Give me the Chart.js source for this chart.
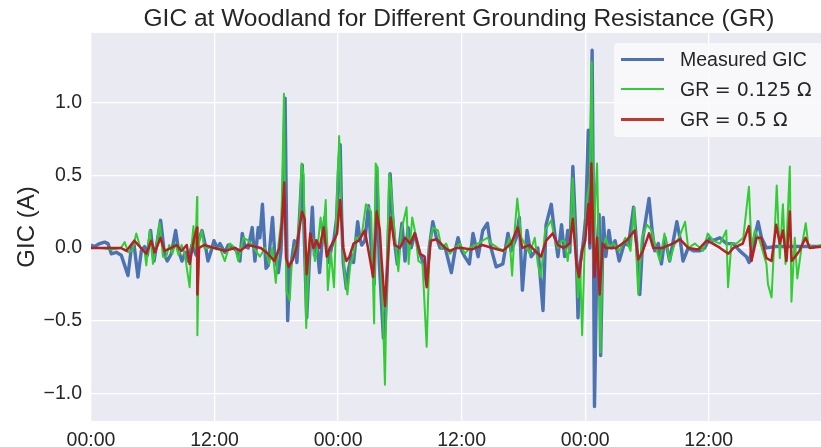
<!DOCTYPE html>
<html>
<head>
<meta charset="utf-8">
<script src="https://cdn.jsdelivr.net/npm/chart.js@4.4.1/dist/chart.umd.min.js"></script>
<style>
  html, body { margin: 0; padding: 0; background: #ffffff; }
  #wrap { position: relative; width: 821px; height: 447px; }
  #chart { position: absolute; left: 0; top: 0; }
  #title {
    position: absolute; left: 94px; width: 730px; top: 4px;
    text-align: center; font-family: 'Liberation Sans', Arial, sans-serif;
    font-size: 24.5px; color: #262626; white-space: nowrap;
  }
  #legend {
    position: absolute; left: 614px; top: 43px; width: 215px; height: 94px;
    background: rgba(250, 250, 252, 0.85); border-radius: 4px;
    font-family: 'Liberation Sans', Arial, sans-serif; font-size: 19.5px; color: #262626;
  }
  .row { position: absolute; left: 0; height: 30px; line-height: 30px; white-space: nowrap; }
  .row .swatch { position: absolute; left: 7px; width: 43px; }
  .row .txt { position: absolute; left: 66px; }
  .math { font-family: 'DejaVu Sans', sans-serif; font-size: 19px; }
</style>
</head>
<body>
<div id="wrap">
  <canvas id="chart" width="821" height="447"></canvas>
  <div id="title">GIC at Woodland for Different Grounding Resistance (GR)</div>
  <div id="legend">
    <div class="row" style="top:1px"><div class="swatch" style="top:14px;height:3px;background:#4C72B0"></div><div class="txt">Measured GIC</div></div>
    <div class="row" style="top:31px"><div class="swatch" style="top:14px;height:2px;background:#32CD32"></div><div class="txt">GR <span class="math">= 0.125 Ω</span></div></div>
    <div class="row" style="top:61px"><div class="swatch" style="top:14px;height:2.5px;background:#C0392B"></div><div class="txt">GR <span class="math">= 0.5 Ω</span></div></div>
  </div>
</div>
<script>
// hours since first midnight, GIC in amps
const measuredT = [0.0, 0.36, 0.84, 1.33, 1.65, 1.97, 2.46, 2.94, 3.27, 3.59, 3.92, 4.17, 4.56, 4.89, 5.21, 5.47, 5.79, 6.12, 6.44, 6.76, 7.15, 7.41, 7.8, 8.22, 8.51, 8.83, 9.16, 9.42, 9.81, 10.23, 10.45, 10.78, 11.1, 11.36, 11.68, 11.94, 12.27,
  12.52, 13.0, 13.33, 13.82, 14.14, 14.46, 14.69, 14.95, 15.27, 15.66, 15.92, 16.24, 16.4, 16.65, 17.0, 17.21, 17.63, 17.85, 18.2, 18.45, 18.65, 18.85, 18.95, 19.1, 19.3, 19.5, 19.75, 20.0, 20.25, 20.52, 20.7, 20.95, 21.2, 21.5, 21.7, 21.9, 22.2, 22.45, 22.7, 22.9, 23.1, 23.35, 23.6, 23.85, 24.05, 24.2, 24.35, 24.5, 24.8, 25.0, 25.3, 25.5, 25.9, 26.1, 26.3, 26.6, 26.95, 27.2, 27.5, 27.75, 28.0, 28.4, 28.55, 28.8, 29.05, 29.25, 29.5, 29.75, 30.2, 30.5, 30.8, 31.1, 31.45, 31.95, 32.3, 32.6, 32.85, 33.2, 33.55, 33.9, 34.4, 35.0, 35.35, 35.65,
  36.0, 36.3, 36.75, 37.1, 37.6, 38.05, 38.5, 38.85, 39.35, 40.0, 40.5, 40.8, 41.3, 41.6, 41.9, 42.35, 42.75, 43.4, 43.9, 44.2, 44.7, 45.0, 45.35, 45.7, 46.0, 46.3, 46.5, 46.8, 47.1, 47.3, 47.5, 47.8, 48.05, 48.3, 48.45, 48.67, 48.78, 48.9, 49.15, 49.35, 49.5, 49.75, 50.0, 50.3, 50.55, 50.9, 51.3, 51.8, 52.2, 52.7, 53.0, 53.3, 53.6, 54.2, 54.5, 54.75, 55.1, 55.4, 55.75, 56.2, 56.5, 56.9, 57.2, 57.5, 58.0, 58.5, 59.13, 59.6, 60.1, 60.42, 61.07, 61.72, 62.37, 63.01, 63.66, 63.92, 64.31, 64.79, 65.12, 65.6, 66.5, 67.5, 68.5, 69.5, 70.9];
const measured = [0.02, 0.01, 0.03, 0.04, 0.03, -0.04, -0.03, -0.05, -0.12, -0.19, 0.0, 0.03, -0.2, -0.02, 0.01, -0.05, 0.12, -0.09, 0.05, 0.19, -0.05, -0.09, -0.04, 0.12, -0.02, -0.09, -0.03, -0.09, 0.02, -0.05, 0.05, 0.12, 0.02, -0.09, -0.02, 0.05, 0.0,
  0.03, -0.03, 0.02, 0.0, -0.02, -0.09, 0.1, 0.01, 0.0, 0.14, -0.09, 0.14, 0.07, 0.3, -0.14, -0.12, 0.21, -0.05, -0.17, -0.02, 0.35, 1.03, 0.4, -0.5, -0.15, -0.08, 0.05, -0.1, 0.21, 0.57, 0.1, -0.48, -0.1, 0.28, -0.05, 0.05, -0.17, 0.05, 0.21, 0.0, -0.1, 0.0, 0.06, 0.2, 0.55, 0.71, 0.2, -0.1, -0.28, -0.15, -0.05, -0.1, 0.18, 0.07, 0.02, 0.05, 0.29, 0.02, -0.25, 0.53, -0.1, -0.62, -0.58, -0.1, 0.51, 0.26, 0.03, -0.11, 0.17, -0.09, 0.14, 0.0, 0.1, -0.04, -0.11, -0.25, 0.0, 0.18, 0.07, 0.0, 0.0, -0.17, -0.02, 0.07,
  -0.02, -0.06, -0.11, 0.1, -0.06, 0.12, 0.17, 0.0, -0.13, -0.11, 0.1, -0.02, 0.07, 0.21, -0.29, 0.12, -0.06, 0.0, -0.43, 0.16, 0.3, 0.12, -0.06, 0.16, -0.06, 0.12, -0.03, 0.56, 0.07, -0.48, -0.11, 0.03, 0.21, 0.81, 0.0, 1.36, 0.35, -1.09, 0.0, 0.23, -0.74, 0.21, -0.06, 0.12, 0.0, 0.05, -0.09, 0.03, 0.02, 0.28, 0.03, -0.32, 0.07, 0.34, 0.12, -0.02, 0.03, -0.11, 0.07, -0.09, 0.03, 0.18, 0.07, -0.09, 0.0, -0.02, -0.02, 0.0, 0.07, 0.05, 0.07, 0.03, 0.03, -0.02, -0.06, -0.1, 0.03, 0.18, 0.07, 0.0, 0.01, 0.01, 0.01, 0.01, 0.01];

const gr0125T = [0.0, 1.0, 2.0, 2.9, 3.27, 3.6, 4.0, 4.4, 4.8, 5.2, 5.37, 5.7, 6.02, 6.35, 6.67, 6.99, 7.3, 7.6, 7.9, 8.2, 8.5, 8.8, 9.1, 9.58, 9.75, 9.95, 10.15, 10.3, 10.33, 10.5, 10.75, 11.0, 11.4, 11.8, 12.2,
  12.5, 13.0, 13.5, 14.0, 14.3, 14.8, 15.3, 15.8, 16.4, 16.9, 17.3, 17.6, 17.95, 18.2, 18.5, 18.74, 18.85, 19.0, 19.3, 19.5, 19.8, 20.05, 20.25, 20.45, 20.65, 20.9, 21.2, 21.5, 21.75, 22.0, 22.3, 22.5, 22.8, 23.0, 23.3, 23.6, 23.85, 24.1, 24.35, 24.6, 24.9, 25.2, 25.45, 25.7, 26.0, 26.3, 26.7, 27.2, 27.5, 27.65, 27.85, 28.05, 28.3, 28.55, 28.75, 28.95, 29.1, 29.35, 29.7, 29.85, 30.15, 30.65, 30.85, 31.2, 31.45, 31.8, 32.2, 32.6, 32.9, 33.2, 33.7, 34.05, 34.5, 34.85, 35.35, 35.85,
  36.3, 36.8, 37.57, 38.5, 38.9, 39.5, 40.2, 40.65, 40.9, 41.15, 41.4, 41.8, 42.1, 42.6, 43.1, 43.4, 43.7, 44.1, 44.7, 45.0, 45.35, 45.7, 46.0, 46.3, 46.55, 46.78, 47.0, 47.3, 47.5, 47.7, 47.95, 48.2, 48.45, 48.63, 48.83, 49.0, 49.15, 49.35, 49.48, 49.7, 50.0, 50.3, 50.75, 51.3, 51.9, 52.4, 52.75, 53.15, 53.5, 54.0, 54.45, 54.75, 55.25, 55.7, 56.2, 56.7, 57.0, 57.7, 58.0, 58.65, 59.45, 59.9, 60.4, 61.1, 61.7, 61.87, 62.2, 62.7, 63.35, 63.9, 64.15, 64.47, 64.95, 65.6, 65.75, 66.1, 66.4, 66.6, 66.9, 67.2, 67.45, 67.7, 67.87, 68.03, 68.35, 68.6, 69.0, 69.42, 69.65, 70.1, 70.9];
const gr0125 = [0.0, 0.0, -0.01, 0.0, 0.04, -0.03, -0.02, 0.1, 0.0, -0.02, -0.12, 0.12, -0.11, 0.02, 0.17, -0.06, -0.06, 0.02, -0.04, 0.03, -0.05, 0.02, -0.04, -0.27, 0.0, 0.15, 0.0, 0.35, -0.6, 0.05, 0.12, 0.0, 0.0, 0.01, -0.01,
  0.0, -0.09, 0.03, 0.0, -0.09, 0.07, 0.05, 0.0, -0.06, 0.0, -0.11, 0.0, -0.24, 0.02, 0.2, 1.06, 0.2, -0.3, -0.36, -0.1, 0.0, 0.05, 0.2, 0.58, 0.5, -0.55, 0.0, 0.07, -0.09, 0.0, 0.21, 0.05, 0.33, -0.29, -0.03, -0.27, 0.26, 0.77, 0.16, -0.15, -0.32, -0.11, -0.06, 0.07, 0.07, 0.09, 0.3, 0.25, -0.52, 0.58, 0.55, 0.03, -0.34, -0.94, -0.11, 0.51, 0.44, 0.21, -0.06, -0.16, 0.12, 0.28, -0.11, 0.21, 0.12, -0.09, -0.11, -0.68, 0.03, 0.14, 0.12, 0.0, 0.03, -0.04, 0.0, 0.03,
  -0.04, 0.0, 0.03, 0.07, 0.03, 0.0, -0.02, 0.07, -0.19, 0.12, 0.34, 0.07, 0.03, -0.04, 0.07, -0.11, -0.2, 0.12, 0.19, 0.07, 0.0, 0.05, 0.05, -0.09, 0.07, 0.48, 0.12, -0.34, -0.11, -0.6, 0.0, 0.35, 0.46, 1.28, -0.11, 0.35, 0.58, -0.11, -0.72, 0.0, 0.07, 0.0, 0.03, -0.02, 0.07, -0.02, 0.28, -0.32, 0.07, 0.16, 0.12, 0.03, -0.09, 0.1, -0.09, 0.03, 0.05, 0.18, 0.0, 0.03, -0.02, 0.1, 0.05, 0.03, 0.12, -0.27, 0.03, 0.03, 0.07, 0.42, 0.0, 0.12, 0.05, -0.11, -0.25, -0.34, 0.1, 0.43, -0.07, 0.3, -0.11, 0.28, 0.56, -0.37, 0.07, -0.21, 0.0, 0.17, 0.03, 0.0, 0.02];

const gr05T = [0.0, 2.9, 3.45, 4.2, 5.37, 5.85, 6.2, 6.75, 7.15, 7.8, 8.3, 8.8, 9.3, 9.58, 10.0, 10.3, 10.33, 10.5, 11.0, 12.0, 13.0, 14.0, 14.5, 15.2, 16.5, 17.2, 17.8, 18.3, 18.55, 18.77, 18.95, 19.2, 19.6, 19.95, 20.3, 20.5, 20.75, 20.95, 21.3, 21.6, 21.9, 22.2, 22.6, 22.9, 23.2, 23.6, 23.9, 24.2, 24.5, 24.8, 25.1, 25.5, 26.0, 26.6, 27.4, 27.75, 28.05, 28.2, 28.55, 28.8, 29.1, 29.5, 30.0, 30.5, 31.0, 31.45, 31.95, 32.4, 32.6, 33.0, 33.55, 34.4, 34.85, 35.5,
  36.0, 37.0, 38.0, 39.0, 40.0, 40.8, 41.45, 41.9, 42.6, 43.7, 44.2, 44.85, 45.35, 45.9, 46.5, 46.8, 47.15, 47.4, 47.7, 48.0, 48.3, 48.45, 48.6, 48.75, 48.9, 49.15, 49.4, 49.7, 50.0, 51.0, 52.0, 52.8, 53.15, 53.6, 54.2, 54.6, 55.5, 56.5, 57.2, 58.0, 59.0, 59.8, 60.4, 61.1, 61.9, 62.4, 63.3, 63.9, 64.15, 64.65, 65.1, 65.6, 66.1, 66.55, 66.9, 67.2, 67.55, 67.87, 68.05, 68.5, 68.8, 69.4, 69.8, 70.9];
const gr05 = [0.0, 0.0, -0.02, 0.05, -0.04, 0.05, -0.03, 0.07, -0.02, 0.0, 0.02, -0.02, 0.02, -0.11, 0.06, 0.14, -0.32, 0.0, 0.02, 0.0, -0.02, 0.0, -0.02, 0.02, 0.0, -0.04, -0.09, 0.0, 0.18, 0.45, -0.07, -0.13, -0.08, 0.0, 0.16, 0.25, 0.2, -0.18, 0.1, 0.0, 0.05, 0.0, 0.14, -0.06, 0.0, 0.05, 0.1, 0.33, 0.0, -0.09, -0.06, 0.03, 0.05, 0.12, -0.2, 0.25, 0.12, -0.06, -0.4, -0.11, 0.21, 0.02, 0.0, 0.07, 0.03, 0.1, -0.04, -0.06, -0.27, 0.05, 0.06, 0.0, -0.02, 0.0,
  0.0, -0.01, 0.02, 0.0, -0.02, 0.03, 0.14, 0.0, 0.02, -0.06, 0.05, 0.1, 0.02, 0.0, 0.03, 0.2, -0.11, -0.2, -0.02, 0.05, 0.3, 0.03, 0.58, 0.2, -0.2, 0.07, -0.32, 0.03, 0.0, 0.0, 0.05, 0.12, -0.08, -0.02, 0.1, 0.0, 0.0, 0.03, 0.06, 0.0, -0.01, 0.05, 0.03, 0.0, -0.04, 0.0, 0.03, 0.15, -0.09, 0.07, 0.07, -0.07, -0.09, 0.16, 0.03, 0.12, -0.09, 0.25, -0.09, -0.05, -0.02, 0.07, 0.0, 0.01];

const xTicks = [0, 12, 24, 36, 48, 60];
const yTicks = [-1.0, -0.5, 0.0, 0.5, 1.0];

function toPoints(ts, vs) {
    return ts.map((t, i) => ({ x: t, y: vs[i] }));
}

// seaborn-style plot background
const plotBackground = {
    id: 'plotBackground',
    beforeDraw(chart) {
        const { ctx, chartArea } = chart;
        ctx.save();
        ctx.fillStyle = '#EAEAF2';
        ctx.fillRect(chartArea.left, chartArea.top, chartArea.right - chartArea.left, chartArea.bottom - chartArea.top);
        ctx.restore();
    }
};

const tickFont = { family: "'Liberation Sans', Arial, sans-serif", size: 19.5 };

new Chart(document.getElementById('chart').getContext('2d'), {
    type: 'line',
    data: {
        datasets: [
            { label: 'Measured GIC', data: toPoints(measuredT, measured), borderColor: '#4C72B0', borderWidth: 3.4, order: 3 },
            { label: 'GR = 0.125 Ω', data: toPoints(gr0125T, gr0125), borderColor: '#32CD32', borderWidth: 2, order: 2 },
            { label: 'GR = 0.5 Ω', data: toPoints(gr05T, gr05), borderColor: '#B22222', borderWidth: 2.5, order: 1 }
        ]
    },
    options: {
        responsive: false,
        animation: false,
        devicePixelRatio: 1,
        layout: { padding: { top: 33, right: 0, bottom: 0, left: 0 } },
        elements: { point: { radius: 0 }, line: { tension: 0, fill: false, borderJoinStyle: 'round' } },
        plugins: { legend: { display: false }, tooltip: { enabled: false } },
        scales: {
            x: {
                type: 'linear',
                min: 0,
                max: 70.9,
                border: { display: false },
                grid: { color: '#FFFFFF', lineWidth: 1.3, drawTicks: false },
                afterFit(scale) { scale.height = 26; },
                afterBuildTicks(scale) { scale.ticks = xTicks.map(v => ({ value: v })); },
                ticks: {
                    color: '#262626', font: tickFont, padding: 8, maxRotation: 0,
                    callback: v => String(Math.round(v) % 24).padStart(2, '0') + ':00'
                }
            },
            y: {
                min: -1.19,
                max: 1.478,
                border: { display: false },
                grid: { color: '#FFFFFF', lineWidth: 1.3, drawTicks: false },
                afterFit(scale) { scale.width = 91; },
                afterBuildTicks(scale) { scale.ticks = yTicks.map(v => ({ value: v })); },
                title: {
                    display: true, text: 'GIC (A)', color: '#262626',
                    font: { family: "'Liberation Sans', Arial, sans-serif", size: 24 },
                    padding: { top: 13, bottom: 0 }
                },
                ticks: {
                    color: '#262626', font: tickFont, padding: 9,
                    callback: v => (v < 0 ? '\u2212' : '') + Math.abs(v).toFixed(1)
                }
            }
        }
    },
    plugins: [plotBackground]
});
</script>
</body>
</html>
